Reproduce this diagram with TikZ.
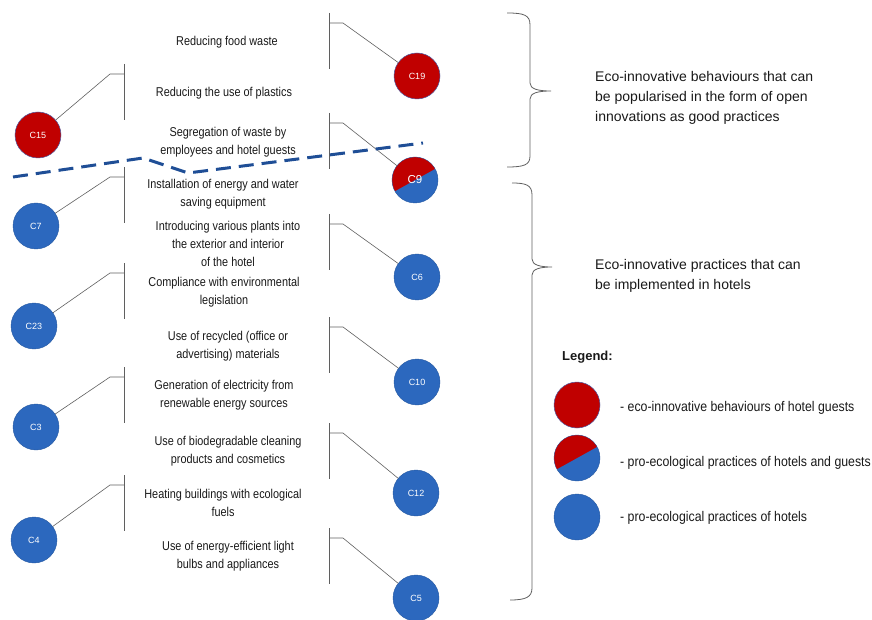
\documentclass[tikz,border=0pt]{standalone}
\usepackage{fontspec}
\setmainfont{Liberation Sans}
\newfontfamily\narrowfont[FakeStretch=0.85]{Liberation Sans}
\newfontfamily\legfont[FakeStretch=0.88]{Liberation Sans}
\usetikzlibrary{calc}
\definecolor{ered}{RGB}{192,0,0}
\definecolor{eblue}{RGB}{44,104,190}
\definecolor{rimblue}{RGB}{80,90,160}
\definecolor{dashblue}{RGB}{31,78,150}
\definecolor{brk}{RGB}{95,95,95}
\definecolor{txt}{RGB}{25,25,25}
\begin{document}
\begin{tikzpicture}[x=1pt,y=-1pt,
  disc/.style={circle, minimum size=46pt, inner sep=0pt, text=white, font=\fontsize{9}{10}\selectfont},
  reddisc/.style={disc, fill=ered, draw=rimblue, line width=0.5pt},
  bluedisc/.style={disc, fill=eblue, draw=eblue!85!black, line width=0.4pt},
  item/.style={align=center, inner sep=0pt, text=txt, font={\narrowfont\fontsize{12.8}{18}\selectfont}},
  note/.style={align=left, anchor=west, inner sep=0pt, text=txt, font={\fontsize{14}{20}\selectfont}},
  legtext/.style={anchor=west, inner sep=0pt, text=txt, font={\legfont\fontsize{14}{17}\selectfont}},
  bracket/.style={draw=brk, line width=0.8pt},
  link/.style={draw=brk, line width=0.6pt},
  brace/.style={draw=brk, line width=0.8pt},
]
\useasboundingbox (0,0) rectangle (872,620);

% ---- discs ----
\node[reddisc] (C15) at (38,135) {C15};
\node[bluedisc] (C7) at (36,226) {C7};
\node[bluedisc] (C23) at (34,326) {C23};
\node[bluedisc] (C3) at (36,427) {C3};
\node[bluedisc] (C4) at (34,540) {C4};
\node[reddisc] (C19) at (417,76) {C19};
\node[bluedisc] (C6) at (417,277) {C6};
\node[bluedisc] (C10) at (417,382) {C10};
\node[bluedisc] (C12) at (416,493) {C12};
\node[bluedisc] (C5) at (416,598) {C5};
% mixed disc C9
\node[bluedisc] (C9) at (415,180) {};
\begin{scope}
  \clip (C9.center) circle (22.8pt);
  \fill[ered] ($(C9.center)+(-40,22.2)$) -- ($(C9.center)+(40,-22.2)$) -- ($(C9.center)+(40,-40)$) -- ($(C9.center)+(-40,-40)$) -- cycle;
\end{scope}
\node[text=white, inner sep=0pt, font={\fontsize{11.5}{12}\selectfont}] (C9l) at (C9.center) {C9};

% ---- left brackets ----
\foreach \n/\t in {C15/64, C7/167, C23/263, C3/367, C4/475} {
  \coordinate (\n-top) at (124,\t);
  \coordinate (\n-bot) at (124,\t+56);
  \coordinate (\n-tr) at (124,\t+10);
  \coordinate (\n-tl) at (110,\t+10);
  \draw[bracket] (\n-top) -- (\n-bot);
  \draw[link] (\n-tr) -- (\n-tl) -- (\n);
}
% ---- right brackets ----
\foreach \n/\t in {C19/13, C9/113, C6/214, C10/317, C12/423, C5/528} {
  \coordinate (\n-top) at (329,\t);
  \coordinate (\n-bot) at (329,\t+56);
  \coordinate (\n-tl) at (329,\t+10);
  \coordinate (\n-tr) at (343,\t+10);
  \draw[bracket] (\n-top) -- (\n-bot);
  \draw[link] (\n-tl) -- (\n-tr) -- (\n);
}

% ---- item texts ----
\node[item] (t1) at (227,42) {Reducing food waste};
\node[item] (t2) at (224,93) {Reducing the use of plastics};
\node[item] (t3) at (228,142) {Segregation of waste by\\employees and hotel guests};
\node[item] (t4) at (223,194) {Installation of energy and water\\saving equipment};
\node[item] (t5) at (228,244) {Introducing various plants into\\the exterior and interior\\of the hotel};
\node[item] (t6) at (224,292) {Compliance with environmental\\legislation};
\node[item] (t7) at (228,346) {Use of recycled (office or\\advertising) materials};
\node[item] (t8) at (224,395) {Generation of electricity from\\renewable energy sources};
\node[item] (t9) at (228,451) {Use of biodegradable cleaning\\products and cosmetics};
\node[item] (t10) at (223,503) {Heating buildings with ecological\\fuels};
\node[item] (t11) at (228,556) {Use of energy-efficient light\\bulbs and appliances};

% ---- dashed divider ----
\coordinate (d1) at (13,177);
\coordinate (d2) at (143,158);
\coordinate (d3) at (188,173);
\coordinate (d4) at (423,143);
\draw[dashblue, line width=3pt, dash pattern=on 15pt off 8pt] (d1) -- (d2) -- (d3) -- (d4);

% ---- braces ----
\draw[brace] (507,13) .. controls (524,13) and (530,15) .. (530,25) -- (530,83)
  .. controls (530,89) and (538,91) .. (551,91)
  .. controls (538,91) and (530,93) .. (530,99) -- (530,156)
  .. controls (530,165) and (524,167) .. (507,167);
\draw[brace] (512,183) .. controls (526,183) and (532,185) .. (532,195) -- (532,259)
  .. controls (532,265) and (540,267) .. (552,267)
  .. controls (540,267) and (532,269) .. (532,275) -- (532,588)
  .. controls (532,597) and (526,600) .. (510,600);

% ---- notes ----
\node[note] (n1) at (595,98) {Eco-innovative behaviours that can\\be popularised in the form of open\\innovations as good practices};
\node[note] (n2) at (595,276) {Eco-innovative practices that can\\be implemented in hotels};

% ---- legend ----
\node[anchor=west, inner sep=0pt, text=txt, font={\bfseries\fontsize{13}{15}\selectfont}] (leg) at (562,357) {Legend:};
\node[reddisc] (L1) at (577,405) {};
\node[bluedisc] (L2) at (577,458) {};
\begin{scope}
  \clip (L2.center) circle (22.8pt);
  \fill[ered] ($(L2.center)+(-40,22.2)$) -- ($(L2.center)+(40,-22.2)$) -- ($(L2.center)+(40,-40)$) -- ($(L2.center)+(-40,-40)$) -- cycle;
\end{scope}
\node[bluedisc] (L3) at (577,517) {};
\node[legtext] (l1) at (620,408) {- eco-innovative behaviours of hotel guests};
\node[legtext] (l2) at (620,463) {- pro-ecological practices of hotels and guests};
\node[legtext] (l3) at (620,518) {- pro-ecological practices of hotels};
\end{tikzpicture}
\end{document}
